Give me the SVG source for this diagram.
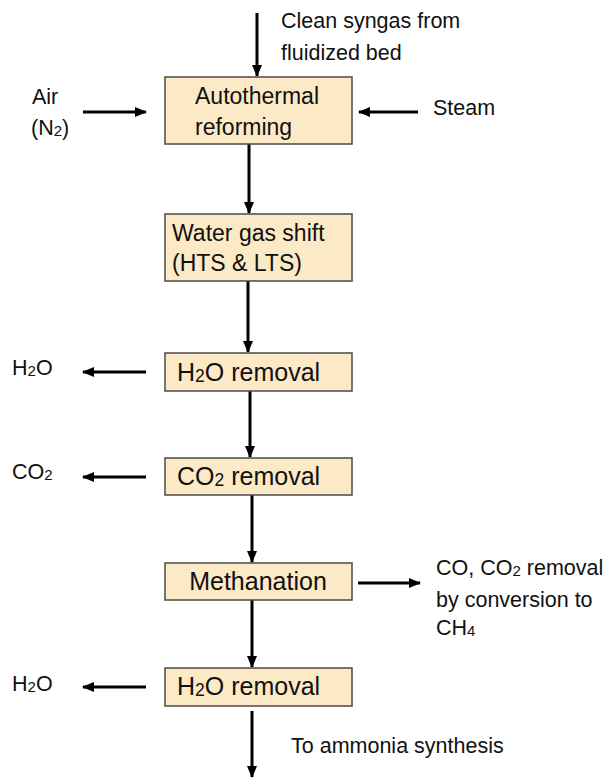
<svg xmlns="http://www.w3.org/2000/svg" width="610" height="778" viewBox="0 0 610 778">
  <style>
    text { font-family: "Liberation Sans", Arial, sans-serif; fill: #111; }
    .lbl { font-size: 21.5px; }
    .box-sm { font-size: 23px; }
    .box-lg { font-size: 25px; }
    .box { fill: #FCE9C6; stroke: #4a4a4a; stroke-width: 1.5; }
    .flow { stroke: #000; stroke-width: 3; fill: none; marker-end: url(#arrow); }
    .sub { font-size: 0.7em; }
  </style>
  <defs>
    <marker id="arrow" markerUnits="userSpaceOnUse" markerWidth="12" markerHeight="12" viewBox="0 0 12 12" refX="11" refY="6" orient="auto">
      <path d="M0,1 L12,6 L0,11 Z" fill="#000"/>
    </marker>
  </defs>
  <rect width="610" height="778" fill="#fff"/>

  <!-- process flow lines -->
  <g id="connectors">
    <line class="flow" x1="257" y1="13" x2="257" y2="76"/>
    <line class="flow" x1="83" y1="112" x2="146" y2="112"/>
    <line class="flow" x1="418" y1="112" x2="359" y2="112"/>
    <line class="flow" x1="249" y1="144" x2="249" y2="213"/>
    <line class="flow" x1="248" y1="281" x2="248" y2="352"/>
    <line class="flow" x1="250" y1="391" x2="250" y2="457"/>
    <line class="flow" x1="146" y1="372" x2="83" y2="372"/>
    <line class="flow" x1="146" y1="477" x2="83" y2="477"/>
    <line class="flow" x1="252" y1="495" x2="252" y2="562"/>
    <line class="flow" x1="358" y1="583" x2="420" y2="583"/>
    <line class="flow" x1="252" y1="600" x2="252" y2="667"/>
    <line class="flow" x1="146" y1="687" x2="83" y2="687"/>
    <line class="flow" x1="252" y1="711" x2="252" y2="777"/>
  </g>

  <!-- stream labels -->
  <g id="labels">
    <text class="lbl" x="281" y="28">Clean syngas from</text>
    <text class="lbl" x="281" y="60">fluidized bed</text>
    <text class="lbl" x="32" y="104">Air</text>
    <text class="lbl" x="31" y="135">(N<tspan class="sub" dy="1">2</tspan><tspan dy="-1">)</tspan></text>
    <text class="lbl" x="433" y="115">Steam</text>
    <text class="lbl" x="12" y="375">H<tspan class="sub" dy="1">2</tspan><tspan dy="-1">O</tspan></text>
    <text class="lbl" x="12" y="479">CO<tspan class="sub" dy="1">2</tspan></text>
    <text class="lbl" x="436" y="575">CO, CO<tspan class="sub" dy="1">2</tspan><tspan dy="-1"> removal</tspan></text>
    <text class="lbl" x="436" y="607">by conversion to</text>
    <text class="lbl" x="436" y="635">CH<tspan class="sub" dy="1">4</tspan></text>
    <text class="lbl" x="12" y="691">H<tspan class="sub" dy="1">2</tspan><tspan dy="-1">O</tspan></text>
    <text class="lbl" x="291" y="753">To ammonia synthesis</text>
  </g>

  <g id="autothermal-reforming">
    <rect class="box" x="165" y="77" width="187" height="67"/>
    <text class="box-sm" x="195" y="104">Autothermal</text>
    <text class="box-sm" x="195" y="135">reforming</text>
  </g>

  <g id="water-gas-shift">
    <rect class="box" x="165" y="214" width="187" height="67"/>
    <text class="box-sm" x="172" y="241">Water gas shift</text>
    <text class="box-sm" x="172" y="271">(HTS &amp; LTS)</text>
  </g>

  <g id="h2o-removal-1">
    <rect class="box" x="165" y="353" width="187" height="38"/>
    <text class="box-lg" x="177" y="381">H<tspan class="sub" dy="1">2</tspan><tspan dy="-1">O removal</tspan></text>
  </g>

  <g id="co2-removal">
    <rect class="box" x="165" y="458" width="187" height="37"/>
    <text class="box-lg" x="177" y="485">CO<tspan class="sub" dy="1">2</tspan><tspan dy="-1"> removal</tspan></text>
  </g>

  <g id="methanation">
    <rect class="box" x="165" y="563" width="187" height="37"/>
    <text class="box-lg" x="258" y="590" text-anchor="middle">Methanation</text>
  </g>

  <g id="h2o-removal-2">
    <rect class="box" x="165" y="668" width="187" height="38"/>
    <text class="box-lg" x="177" y="695">H<tspan class="sub" dy="1">2</tspan><tspan dy="-1">O removal</tspan></text>
  </g>
</svg>
